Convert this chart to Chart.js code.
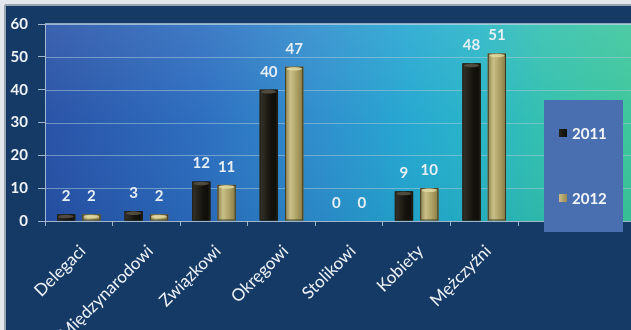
<!DOCTYPE html>
<html lang="pl">
<head>
<meta charset="UTF-8">
<title>Delegaci 2011 / 2012</title>
<script src="https://cdn.jsdelivr.net/npm/chart.js"></script>
<style>
  html, body { margin: 0; padding: 0; background: #e4e8ee; }
  #wrap { width: 631px; height: 330px; position: relative; }
</style>
</head>
<body>
<div id="wrap"><canvas id="chart" width="631" height="330"></canvas></div>
<script>
// data
const categories = ["Delegaci", "Międzynarodowi", "Związkowi", "Okręgowi", "Stolikowi", "Kobiety", "Mężczyźni"];
const values2011 = [2, 3, 12, 40, 0, 9, 48];
const values2012 = [2, 2, 11, 47, 0, 10, 51];
const yTicks = [0, 10, 20, 30, 40, 50, 60];

const NAVY = "#163a66";
const FONT = "Lato, 'Open Sans', sans-serif";

// frame, navy panel and the gradient plot background (runs to the right edge)
const backdrop = {
  id: "backdrop",
  beforeDraw(chart) {
    const { ctx, chartArea, width, height } = chart;
    ctx.save();
    ctx.fillStyle = "#e4e8ee";
    ctx.fillRect(0, 0, width, height);
    ctx.fillStyle = "#9aa6b4";
    ctx.fillRect(5, 4, width - 5, 2);
    ctx.fillRect(4, 5, 2, height - 5);
    ctx.fillStyle = NAVY;
    ctx.fillRect(6, 6, width - 6, height - 6);

    const g = ctx.createLinearGradient(chartArea.left, 0, width, 0);
    g.addColorStop(0, "#2650a5");
    g.addColorStop(0.27, "#2a6cbf");
    g.addColorStop(0.46, "#2c8ccc");
    g.addColorStop(0.62, "#22a6d0");
    g.addColorStop(0.74, "#26b4c6");
    g.addColorStop(0.85, "#30bfae");
    g.addColorStop(1, "#3ac59a");
    ctx.fillStyle = g;
    ctx.fillRect(chartArea.left, chartArea.top, width - chartArea.left, chartArea.bottom - chartArea.top);

    // soft light sheen in the upper part
    const v = ctx.createLinearGradient(0, chartArea.top, 0, chartArea.bottom);
    v.addColorStop(0, "rgba(255,255,255,0.10)");
    v.addColorStop(0.5, "rgba(255,255,255,0.02)");
    v.addColorStop(1, "rgba(0,0,0,0.04)");
    ctx.fillStyle = v;
    ctx.fillRect(chartArea.left, chartArea.top, width - chartArea.left, chartArea.bottom - chartArea.top);

    ctx.fillStyle = "rgba(190,215,230,0.7)";
    ctx.fillRect(chartArea.left, chartArea.top - 1, width - chartArea.left, 2);

    // horizontal grid lines from the y scale, across the whole panel
    const y = chart.scales.y;
    ctx.strokeStyle = "rgba(170,200,215,0.55)";
    ctx.lineWidth = 1;
    y.ticks.forEach(t => {
      if (t.value === 0 || t.value === 60) return;
      const py = Math.round(y.getPixelForValue(t.value)) + 0.5;
      ctx.beginPath();
      ctx.moveTo(chartArea.left, py);
      ctx.lineTo(width, py);
      ctx.stroke();
    });
    // x axis line
    const py0 = Math.round(y.getPixelForValue(0)) + 0.5;
    ctx.strokeStyle = "rgba(175,195,215,0.9)";
    ctx.beginPath();
    ctx.moveTo(chartArea.left, py0);
    ctx.lineTo(width, py0);
    ctx.stroke();
    ctx.restore();
  }
};

// cylinder shading on bars, value labels and the legend panel
const decorations = {
  id: "decorations",
  afterDatasetsDraw(chart) {
    const { ctx } = chart;
    const shades = [
      { stops: ["#34322a", "#25231a", "#13120c", "#0f0e09", "#24221a"], cap: "#5e5848" },
      { stops: ["#8c8150", "#c9c088", "#b0a568", "#978b52", "#7f7444"], cap: "#e4dca4" }
    ];
    chart.data.datasets.forEach((ds, di) => {
      const meta = chart.getDatasetMeta(di);
      const sh = shades[di];
      meta.data.forEach((bar, i) => {
        const { x, y, base, width } = bar.getProps(["x", "y", "base", "width"], true);
        const l = x - width / 2, h = base - y;
        ctx.save();
        if (h > 0.5) {
          const g = ctx.createLinearGradient(l, 0, l + width, 0);
          g.addColorStop(0, sh.stops[0]);
          g.addColorStop(0.3, sh.stops[1]);
          g.addColorStop(0.6, sh.stops[2]);
          g.addColorStop(0.85, sh.stops[3]);
          g.addColorStop(1, sh.stops[4]);
          ctx.fillStyle = g;
          ctx.fillRect(l, y, width, h);
          ctx.strokeStyle = "rgba(30,28,15,0.7)";
          ctx.lineWidth = 1;
          ctx.strokeRect(l + 0.5, y + 0.5, width - 1, h - 1);
          ctx.fillStyle = sh.cap;
          ctx.globalAlpha = 0.8;
          ctx.beginPath();
          ctx.ellipse(x, y + 2, width / 2 - 1.5, 1.8, 0, 0, Math.PI * 2);
          ctx.fill();
        }
        ctx.restore();

        ctx.save();
        ctx.fillStyle = "#e6eef6";
        ctx.font = "bold 15px " + FONT;
        ctx.textAlign = "center";
        ctx.textBaseline = "middle";
        ctx.fillText(String(ds.data[i]), x, y - 18);
        ctx.restore();
      });
    });

    // legend panel
    ctx.save();
    ctx.fillStyle = "#4a6fb0";
    ctx.fillRect(544, 100, 79, 132);
    const rows = [133, 198];
    chart.data.datasets.forEach((ds, di) => {
      const ry = rows[di];
      const g = ctx.createLinearGradient(559, 0, 567, 0);
      g.addColorStop(0, shades[di].stops[1]);
      g.addColorStop(1, shades[di].stops[3]);
      ctx.fillStyle = g;
      ctx.fillRect(559, ry - 4, 8, 8);
      ctx.fillStyle = "#f2f6fa";
      ctx.font = "bold 15px " + FONT;
      ctx.textBaseline = "middle";
      ctx.fillText(ds.label, 572, ry + 1);
    });
    ctx.restore();
  }
};

new Chart(document.getElementById("chart"), {
  type: "bar",
  data: {
    labels: categories,
    datasets: [
      { label: "2011", data: values2011, backgroundColor: "#1a1910" },
      { label: "2012", data: values2012, backgroundColor: "#a89c60" }
    ]
  },
  options: {
    responsive: false,
    animation: false,
    layout: { padding: { top: 24, right: 113, left: 0, bottom: 0 } },
    datasets: { bar: { categoryPercentage: 0.75, barPercentage: 0.72 } },
    plugins: { legend: { display: false }, tooltip: { enabled: false } },
    scales: {
      x: {
        afterFit(s) { s.height = 109; },
        border: { display: false },
        grid: { drawOnChartArea: false, tickLength: 5, color: "rgba(175,195,215,0.9)", offset: true },
        ticks: {
          minRotation: 45, maxRotation: 45, padding: 15, labelOffset: 4,
          color: "#eef3f8",
          font: { family: FONT, size: 17 }
        }
      },
      y: {
        min: 0, max: 60,
        afterFit(s) { s.width = 45; },
        afterBuildTicks(s) { s.ticks = yTicks.map(v => ({ value: v })); },
        border: { display: true, color: "rgba(175,195,215,0.9)" },
        grid: { drawOnChartArea: false, tickLength: 7, color: "rgba(175,195,215,0.9)" },
        ticks: {
          padding: 10,
          color: "#eef3f8",
          font: { family: FONT, size: 15, weight: "bold" }
        }
      }
    }
  },
  plugins: [backdrop, decorations]
});
</script>
</body>
</html>
